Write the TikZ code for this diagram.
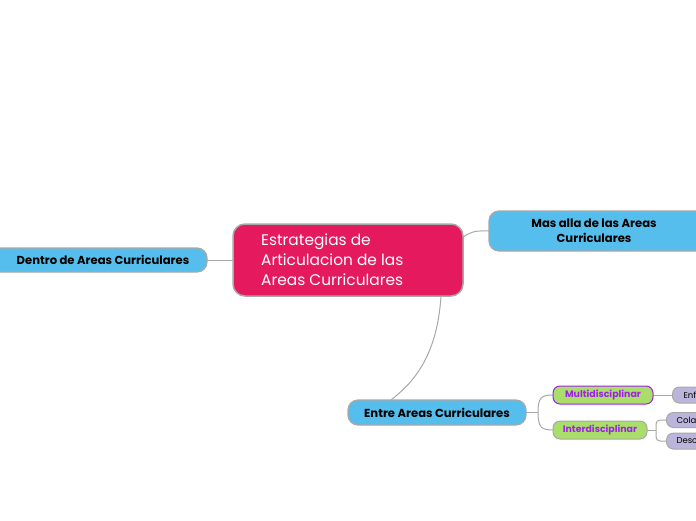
\documentclass[tikz,border=0pt]{standalone}
\usepackage{fontspec}
\setmainfont{Poppins}
\definecolor{crim}{HTML}{E5195E}
\definecolor{sky}{HTML}{56BEEC}
\definecolor{lime}{HTML}{A9DE6A}
\definecolor{lav}{HTML}{BCB5DB}
\definecolor{purp}{HTML}{A020E8}
\definecolor{edge}{HTML}{A8A8A8}
\begin{document}
\begin{tikzpicture}[x=1pt,y=-1pt,
  topic/.style={draw=edge,line width=1.2pt,fill=sky,rounded corners=10pt,font=\bfseries\fontsize{11.6}{15}\selectfont,text=black,inner sep=0pt,align=center},
  sub/.style={draw=edge,line width=1pt,fill=lime,rounded corners=7pt,font=\fontsize{9.4}{11}\selectfont\bfseries,text=purp,inner sep=0pt},
  leaf/.style={draw=edge,line width=1pt,fill=lav,rounded corners=7pt,font=\fontsize{8.5}{10}\selectfont,text=black,inner sep=0pt,anchor=west,text width=60pt,align=left,minimum height=16pt},
  conn/.style={draw=edge,line width=1pt}]
\useasboundingbox (0,0) rectangle (696,520);
\begin{scope}
\clip (0,0) rectangle (696,520);
% connectors
\coordinate (c1) at (441,296);
\coordinate (e1) at (391,400);
\draw[conn] (c1) .. controls (437,360) and (410,385) .. (e1);
\coordinate (c2) at (463,237);
\coordinate (m1) at (489,231);
\draw[conn] (c2) .. controls (474,230) and (478,231) .. (m1);
\coordinate (c3) at (233,260);
\coordinate (d1) at (207,260);
\draw[conn] (d1) -- (c3);
\coordinate (ea) at (526,412);
\coordinate (eb) at (538,412);
\draw[conn] (ea) -- (eb);
\coordinate (mu) at (553,395);
\coordinate (in) at (553,430);
\draw[conn] (eb) .. controls (538,397) and (542,395) .. (mu);
\draw[conn] (eb) .. controls (538,428) and (542,430) .. (in);
\coordinate (ma) at (653,395);
\coordinate (en) at (672,395);
\draw[conn] (ma) -- (en);
\coordinate (ia) at (647,430);
\coordinate (ib) at (656,430);
\coordinate (co) at (666,420);
\coordinate (de) at (666,441);
\draw[conn] (ia) -- (ib);
\draw[conn,rounded corners=4pt] (ib) -- (656,420) -- (co);
\draw[conn,rounded corners=4pt] (ib) -- (656,441) -- (de);
% nodes
\node[draw=edge,line width=1.5pt,fill=crim,rounded corners=12pt,minimum width=230pt,minimum height=72pt,inner sep=0pt] (central) at (348,260) {};
\node[anchor=north west,text=white,align=left,font=\fontsize{15.4}{20}\selectfont,inner sep=0pt] (ctext) at (261,234) {Estrategias de\\Articulacion de las\\Areas Curriculares};
\node[topic,minimum width=220pt,minimum height=40pt] (mas) at (599,231) {};
\node[font=\bfseries\fontsize{11.6}{15}\selectfont,align=center,inner sep=0pt] (mastext) at (594,231) {Mas alla de las Areas\\Curriculares};
\node[topic,minimum width=221pt,minimum height=24pt] (dentro) at (96.5,260) {};
\node[font=\bfseries\fontsize{11.6}{14}\selectfont,inner sep=0pt] (dentrotext) at (103,260) {Dentro de Areas Curriculares};
\node[topic,minimum width=178pt,minimum height=25pt] (entre) at (437,412.5) {Entre Areas Curriculares};
\node[sub,draw=purp,minimum width=100pt,minimum height=18pt] (multi) at (603,395) {Multidisciplinar};
\node[sub,minimum width=94pt,minimum height=18pt] (inter) at (600,430) {Interdisciplinar};
\node[leaf] (enf) at (672,395) {\hspace*{11pt}Enf};
\node[leaf,minimum height=15pt] (cola) at (666,420) {\hspace*{10pt}Cola};
\node[leaf,minimum height=16pt] (desc) at (666,441) {\hspace*{10pt}Desc};
\end{scope}
\end{tikzpicture}
\end{document}
